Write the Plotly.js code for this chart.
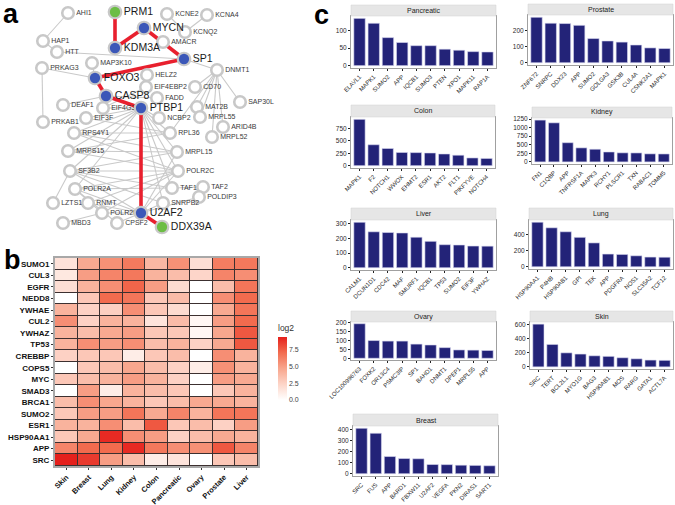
<!DOCTYPE html>
<html><head><meta charset="utf-8">
<script src="https://cdn.plot.ly/plotly-3.0.1.min.js"></script>
<style>html,body{margin:0;padding:0;background:#fff}#chart{width:675px;height:505px}</style>
</head><body><div id="chart"></div>
<script>
// ---------- Panel a: network ----------
const nodeNames = ['AHI1','PRM1','KCNE2','KCNA4','MYCN','KCNQ2','HAP1','AMACR','KDM3A','HTT','SP1','MAP3K10','PRKAG3','DNMT1','FOXO3','HELZ2','EIF4EBP2','CD70','CASP8','FADD','SAP30L','DEAF1','EIF4G3','PTBP1','MAT2B','MRPL55','NCBP2','PRKAB1','EIF3F','ARID4B','RPS4Y1','RPL36','MRPL52','MRPS15','MRPL15','SF3B2','POLR2C','POLR2A','TAF1','TAF2','POLDIP3','LZTS1','RNMT','SNRPB2','POLR2K','U2AF2','MBD3','CPSF2','DDX39A'];
const nodeX = [68,115,167,207,144,185,43,163,115,57,184,92,42,217,95,147,146,195,106,157,240,63,103,141,197,200,159,43,86,223,74,170,212,68,177,70,178,75,172,203,199,53,88,163,102,141,63,117,162];
const nodeY = [13,12,14,15,28,32,41,42,48,52,59,63,68,70,78,75,87,87,96,98,102,105,108,108,107,117,118,122,118,127,133,133,137,151,152,171,171,189,188,187,197,203,203,203,213,213,223,223,227];
const nodeGroup = ['g','green','g','g','blue','g','g','g','blue','g','blue','g','g','g','blue','g','g','g','blue','g','g','g','g','blue','g','g','g','g','g','g','g','g','g','g','g','g','g','g','g','g','g','g','g','g','g','blue','g','g','green'];
const redEdges = [['PRM1','KDM3A'],['KDM3A','MYCN'],['MYCN','SP1'],['SP1','FOXO3'],['FOXO3','CASP8'],['CASP8','PTBP1'],['PTBP1','U2AF2'],['U2AF2','DDX39A']];
const grayEdges = [['AHI1','HAP1'],['HAP1','HTT'],['HTT','SP1'],['MAP3K10','FOXO3'],['PRKAG3','FOXO3'],['PRKAG3','PRKAB1'],['KCNE2','KCNQ2'],['KCNA4','KCNQ2'],['SP1','DNMT1'],['DNMT1','CD70'],['DNMT1','MAT2B'],['DNMT1','SAP30L'],['DNMT1','MRPL55'],['DNMT1','ARID4B'],['DNMT1','MRPL52'],['DNMT1','RPL36'],['CASP8','FADD'],['CASP8','DEAF1'],['EIF4EBP2','EIF4G3'],['PTBP1','EIF4G3'],['PTBP1','NCBP2'],['PTBP1','EIF3F'],['PTBP1','RPS4Y1'],['PTBP1','MRPS15'],['PTBP1','SF3B2'],['PTBP1','POLR2A'],['PTBP1','RPL36'],['PTBP1','MRPL15'],['PTBP1','POLR2C'],['PTBP1','TAF1'],['PTBP1','SNRPB2'],['RPS4Y1','RPL36'],['MRPS15','MRPL15'],['SF3B2','POLR2C'],['POLR2A','TAF1'],['RPS4Y1','MRPL15'],['MRPS15','RPL36'],['SF3B2','MRPL15'],['SF3B2','U2AF2'],['POLR2A','U2AF2'],['POLR2A','POLR2C'],['POLR2K','POLR2A'],['POLR2K','POLR2C'],['U2AF2','POLR2C'],['U2AF2','MRPL15'],['U2AF2','CPSF2'],['U2AF2','SNRPB2'],['U2AF2','POLR2K'],['RNMT','POLR2C'],['RNMT','U2AF2'],['LZTS1','SF3B2'],['MBD3','POLR2K'],['CPSF2','POLR2A'],['TAF1','TAF2'],['POLDIP3','U2AF2'],['SNRPB2','SF3B2'],['MRPS15','POLR2C'],['RPS4Y1','POLR2C'],['SF3B2','TAF1'],['EIF3F','RPL36']];

// ---------- Panel b: heatmap ----------
const tissues = ['Skin','Breast','Lung','Kidney','Colon','Pancreatic','Ovary','Prostate','Liver'];
const hubGenes = ['SUMO1','CUL3','EGFR','NEDD8','YWHAE','CUL2','YWHAZ','TP53','CREBBP','COPS5','MYC','SMAD3','BRCA1','SUMO2','ESR1','HSP90AA1','APP','SRC'];
const log2Values = [
  [1.6,4.5,5.5,6.4,3.8,5.5,1.8,6.3,6.5],
  [1.3,5.0,6.0,6.5,4.0,3.5,2.3,6.0,5.6],
  [1.8,4.0,5.6,7.2,5.0,2.0,0.0,3.5,6.6],
  [0.0,3.0,7.0,6.6,3.0,3.6,0.0,5.6,7.0],
  [4.0,2.5,2.6,5.6,3.0,2.0,0.0,4.5,6.6],
  [5.6,2.5,4.0,4.0,1.5,3.6,0.5,5.0,7.0],
  [4.0,3.5,4.5,5.0,3.0,3.0,0.5,4.6,7.6],
  [4.0,5.6,5.0,5.6,3.5,4.0,2.5,4.5,7.6],
  [2.5,3.0,3.0,1.0,3.0,3.5,0.0,5.6,4.0],
  [0.0,3.0,3.5,4.6,3.5,2.5,1.0,5.5,4.0],
  [3.0,3.5,4.0,5.0,4.0,2.5,0.0,5.0,4.5],
  [0.0,5.0,1.0,4.0,3.5,3.0,0.0,3.0,4.0],
  [3.5,5.6,4.6,4.0,3.0,3.5,4.5,4.5,4.0],
  [3.0,5.0,5.0,6.6,4.5,6.0,4.0,6.6,6.6],
  [4.0,4.0,5.6,3.5,7.6,3.0,3.5,2.5,5.0],
  [3.0,4.5,9.0,5.6,5.0,2.5,3.5,4.5,4.0],
  [6.0,7.0,7.0,9.0,6.5,5.6,5.5,7.6,6.0],
  [9.3,8.5,5.0,3.5,1.0,1.5,0.0,3.0,3.5]
];

// ---------- Panel c: top partners per tissue ----------
const pancreaticGenes = ['ELAVL1','MAPK1','SUMO2','APP','IQCB1','SUMO3','PTEN','XPO1','MAPK11','RAP1A'];
const pancreaticCounts = [135,121,80,66,57,57,47,44,40,39];
const prostateGenes = ['ZNF672','SNRPC','DDX23','APP','SUMO2','GOLGA3','GSK3B','CUL4A','CSNK2A1','MAPK1'];
const prostateCounts = [282,245,243,232,150,135,128,110,92,88];
const colonGenes = ['MAPK1','F2','NOTCH1','WWOX','EHMT2','ESR1','AKT2','FLT1','PIKFYVE','NOTCH4'];
const colonCounts = [930,420,345,265,262,255,235,210,155,145];
const kidneyGenes = ['FN1','C1QBP','APP','TNFRSF1A','MAPK3','RCHY1','PLSCR1','TXN','RABAC1','TOMM5'];
const kidneyCounts = [1220,1140,560,410,370,290,265,262,235,232];
const liverGenes = ['CALM1','DCUN1D1','CDC42','MAF','SMURF1','IQCB1','TP53','SUMO2','EIF3F','YWHAZ'];
const liverCounts = [310,245,240,237,208,180,157,155,148,147];
const lungGenes = ['HSP90AA1','P4HB','HSP90AB1','GPI','TEK','APP','PDGFRA','NOS1','SLC35A2','TCF12'];
const lungCounts = [560,490,440,370,300,160,155,138,122,120];
const ovaryGenes = ['LOC100996763','FOXK2','OR13C4','PSMC3IP','SP1','BAHD1','DNMT1','DPEP1','MRPL55','APP'];
const ovaryCounts = [195,100,97,97,80,75,60,47,46,44];
const skinGenes = ['SRC','TERT','BCL2L1','MYO1G','BAG3','HSP90AB1','MOS','RARG','GATA1','ACTL7A'];
const skinCounts = [610,320,200,183,158,150,130,115,97,93];
const breastGenes = ['SRC','FUS','APP','BARD1','FBXW11','U2AF2','VEGFA','PKN2','DIRAS1','SART1'];
const breastCounts = [410,365,155,137,135,83,82,77,75,72];

const W = 675, H = 505;
const px = v => v / W;
const py = v => 1 - v / H;
const FONT = 'Liberation Sans, Arial, sans-serif';

const traces = [];
const layout = {
  width: W, height: H, margin: {l:0,r:0,t:0,b:0}, showlegend: false,
  paper_bgcolor: '#ffffff', plot_bgcolor: '#ffffff',
  font: {family: FONT, color: '#333'},
  shapes: [], annotations: []
};

// network
function edgeXY(edges) {
  const xs = [], ys = [];
  edges.forEach(([a, b]) => {
    const i = nodeNames.indexOf(a), j = nodeNames.indexOf(b);
    xs.push(nodeX[i], nodeX[j], null); ys.push(nodeY[i], nodeY[j], null);
  });
  return {xs, ys};
}
const ge = edgeXY(grayEdges), re = edgeXY(redEdges);
traces.push({type:'scatter', mode:'lines', x:ge.xs, y:ge.ys, xaxis:'x', yaxis:'y', line:{color:'#c9c9c9', width:1.1}, hoverinfo:'skip'});
traces.push({type:'scatter', mode:'lines', x:re.xs, y:re.ys, xaxis:'x', yaxis:'y', line:{color:'#e8202e', width:3.6}, hoverinfo:'skip'});
const colMap = {g:'#ffffff', blue:'#3b57b8', green:'#6cbd45'};
['g','c'].forEach(kind => {
  const idx = nodeNames.map((n,i)=>i).filter(i => kind==='g' ? nodeGroup[i]==='g' : nodeGroup[i]!=='g');
  traces.push({type:'scatter', mode:'markers+text', xaxis:'x', yaxis:'y',
    x: idx.map(i=>nodeX[i]), y: idx.map(i=>nodeY[i]), text: idx.map(i=>nodeNames[i]),
    textposition:'middle right',
    textfont:{family:FONT, size: kind==='g'?7:10.5, color: kind==='g'?'#3a3a3a':'#1a1a1a'},
    marker:{size: kind==='g'?11.5:12.5, color: idx.map(i=>colMap[nodeGroup[i]]), line:{color:'#c8c8c8', width: kind==='g'?2.6:2.2}},
    hoverinfo:'text', cliponaxis:false});
});
layout.xaxis = {domain:[0, px(270)], range:[0,270], visible:false, fixedrange:true};
layout.yaxis = {domain:[py(240), 1], range:[240,0], visible:false, fixedrange:true};

// heatmap
traces.push({type:'heatmap', xaxis:'x2', yaxis:'y2', x:tissues, y:hubGenes, z:log2Values,
  zmin:0, zmax:9.3, xgap:1, ygap:1,
  colorscale:[[0,'#ffffff'],[0.25,'#fdd5c8'],[0.5,'#f8a68d'],[0.75,'#f26c4f'],[1,'#e5201c']],
  colorbar:{x:px(268), xanchor:'left', y:py(322), yanchor:'top', len:78, lenmode:'pixels', ypad:0,
    thickness:9, thicknessmode:'pixels', outlinewidth:0, ticks:'', ticklen:0,
    tickvals:[0,2.5,5,7.5], ticktext:['0.0','2.5','5.0','7.5'], tickfont:{size:7, color:'#444'},
    title:{text:'log2', side:'top', font:{size:8.5, color:'#333'}}}});
layout.xaxis2 = {domain:[px(55), px(258)], anchor:'y2', type:'category', tickangle:-45,
  tickfont:{size:7.5, color:'#111', weight:700}, ticks:'outside', ticklen:2, tickcolor:'#333',
  showline:true, mirror:true, linecolor:'#a8a8a8', linewidth:2, showgrid:false, fixedrange:true};
layout.yaxis2 = {domain:[py(466), py(258)], anchor:'x2', type:'category', autorange:'reversed',
  tickfont:{size:8, color:'#111', weight:700}, ticks:'outside', ticklen:2, tickcolor:'#333',
  showline:true, mirror:true, linecolor:'#a8a8a8', linewidth:2, showgrid:false, fixedrange:true};
layout.shapes.push({type:'rect', xref:'x2 domain', yref:'y2 domain', x0:0, x1:1, y0:0, y1:1,
  fillcolor:'#3c3030', line:{width:0}, layer:'below'});

// bar panels
const panels = [
  {name:'Pancreatic', g:pancreaticGenes, v:pancreaticCounts, box:[351,496,16,68], st:5, dt:50},
  {name:'Prostate', g:prostateGenes, v:prostateCounts, box:[528,673,15,65], st:4, dt:100},
  {name:'Colon', g:colonGenes, v:colonCounts, box:[351,495,117,168], st:105, dt:250},
  {name:'Kidney', g:kidneyGenes, v:kidneyCounts, box:[532,672,118,164], st:107, dt:250},
  {name:'Liver', g:liverGenes, v:liverCounts, box:[351,496,220,270], st:208, dt:100},
  {name:'Lung', g:lungGenes, v:lungCounts, box:[529,673,220,269], st:208, dt:200},
  {name:'Ovary', g:ovaryGenes, v:ovaryCounts, box:[351,496,322,360], st:311, dt:50},
  {name:'Skin', g:skinGenes, v:skinCounts, box:[530,673,322,369], st:311, dt:200},
  {name:'Breast', g:breastGenes, v:breastCounts, box:[353,498,426,476], st:414, dt:100}
];
panels.forEach((p, k) => {
  const n = k + 3;
  const mx = Math.max(...p.v);
  traces.push({type:'bar', x:p.g, y:p.v, xaxis:'x'+n, yaxis:'y'+n,
    marker:{color:'#232378', line:{color:'#d8d8f0', width:0.6}}});
  layout['xaxis'+n] = {domain:[px(p.box[0]), px(p.box[1])], anchor:'y'+n, type:'category',
    range:[-0.6, 9.6], tickangle:-45, tickfont:{size:6, color:'#2a2a2a'}, ticks:'outside', ticklen:2,
    tickcolor:'#222', showline:true, mirror:true, linecolor:'#a0a0a0', linewidth:1, showgrid:false, fixedrange:true};
  layout['yaxis'+n] = {domain:[py(p.box[3]), py(p.box[2])], anchor:'x'+n,
    range:[-0.05*mx, 1.05*mx], dtick:p.dt, tick0:0, tickfont:{size:6.5, color:'#2a2a2a'}, ticks:'outside',
    ticklen:2, tickcolor:'#222', showline:true, mirror:true, linecolor:'#a0a0a0', linewidth:1,
    showgrid:false, zeroline:false, fixedrange:true};
  layout.shapes.push({type:'rect', xref:'paper', yref:'paper', x0:px(p.box[0]), x1:px(p.box[1]),
    y0:py(p.box[2]), y1:py(p.st), fillcolor:'#e6e6e6', line:{color:'#d0d0d0', width:0.5}});
  layout.annotations.push({xref:'paper', yref:'paper', x:(px(p.box[0])+px(p.box[1]))/2,
    y:(py(p.box[2])+py(p.st))/2, text:p.name, showarrow:false, xanchor:'center', yanchor:'middle',
    font:{size:7, color:'#222'}});
});

// panel letters
[['a',1,-3],['b',2,243],['c',312,-2]].forEach(([t,x,y]) => {
  layout.annotations.push({xref:'paper', yref:'paper', x:px(x), y:py(y), xanchor:'left', yanchor:'top',
    text:'<b>'+t+'</b>', showarrow:false, font:{size:27, color:'#000', family:FONT}});
});

Plotly.newPlot('chart', traces, layout, {staticPlot:true, displayModeBar:false});
</script></body></html>
